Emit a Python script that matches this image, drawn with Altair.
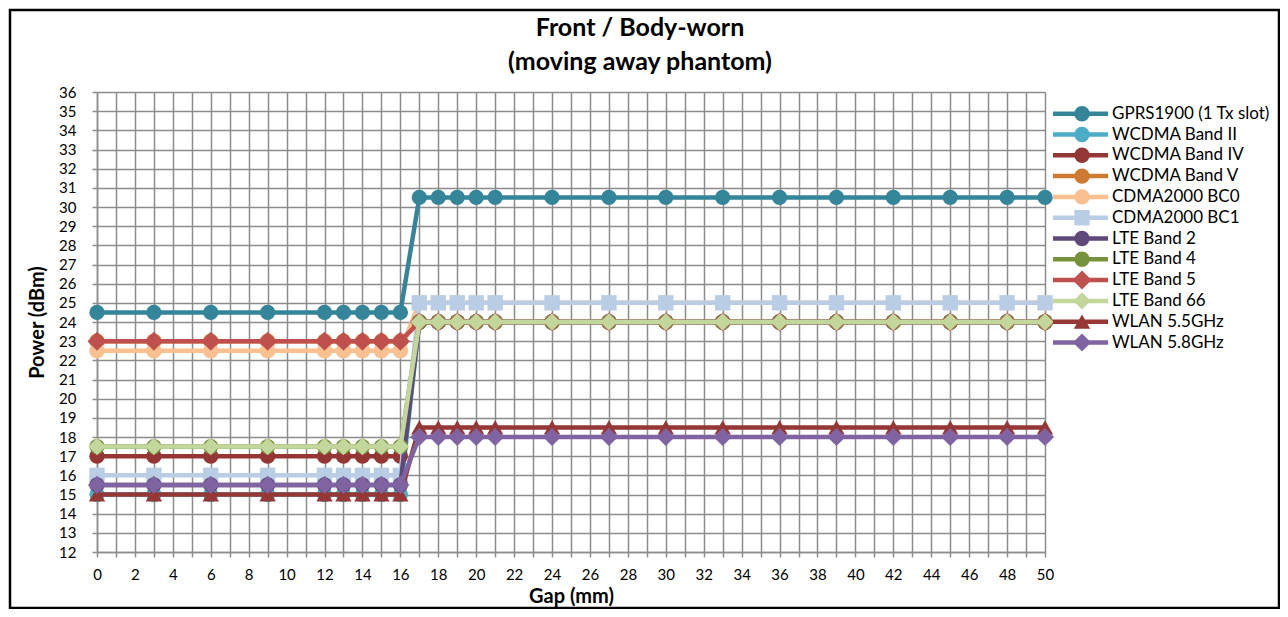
import altair as alt
import pandas as pd

gap = [0, 3, 6, 9, 12, 13, 14, 15, 16, 17, 18, 19, 20, 21, 24, 27, 30, 33, 36, 39, 42, 45, 48, 50]

series = ["GPRS1900 (1 Tx slot)", "WCDMA Band II", "WCDMA Band IV", "WCDMA Band V",
          "CDMA2000 BC0", "CDMA2000 BC1", "LTE Band 2", "LTE Band 4", "LTE Band 5",
          "LTE Band 66", "WLAN 5.5GHz", "WLAN 5.8GHz"]

gprs1900 = [24.5, 24.5, 24.5, 24.5, 24.5, 24.5, 24.5, 24.5, 24.5, 30.5, 30.5, 30.5, 30.5, 30.5, 30.5, 30.5, 30.5, 30.5, 30.5, 30.5, 30.5, 30.5, 30.5, 30.5]
wcdma_b2 = [15, 15, 15, 15, 15, 15, 15, 15, 15, 24, 24, 24, 24, 24, 24, 24, 24, 24, 24, 24, 24, 24, 24, 24]
wcdma_b4 = [17, 17, 17, 17, 17, 17, 17, 17, 17, 24, 24, 24, 24, 24, 24, 24, 24, 24, 24, 24, 24, 24, 24, 24]
wcdma_b5 = [23, 23, 23, 23, 23, 23, 23, 23, 23, 24, 24, 24, 24, 24, 24, 24, 24, 24, 24, 24, 24, 24, 24, 24]
cdma_bc0 = [22.5, 22.5, 22.5, 22.5, 22.5, 22.5, 22.5, 22.5, 22.5, 25, 25, 25, 25, 25, 25, 25, 25, 25, 25, 25, 25, 25, 25, 25]
cdma_bc1 = [16, 16, 16, 16, 16, 16, 16, 16, 16, 25, 25, 25, 25, 25, 25, 25, 25, 25, 25, 25, 25, 25, 25, 25]
lte_b2 = [15.5, 15.5, 15.5, 15.5, 15.5, 15.5, 15.5, 15.5, 15.5, 24, 24, 24, 24, 24, 24, 24, 24, 24, 24, 24, 24, 24, 24, 24]
lte_b4 = [17.5, 17.5, 17.5, 17.5, 17.5, 17.5, 17.5, 17.5, 17.5, 24, 24, 24, 24, 24, 24, 24, 24, 24, 24, 24, 24, 24, 24, 24]
lte_b5 = [23, 23, 23, 23, 23, 23, 23, 23, 23, 24, 24, 24, 24, 24, 24, 24, 24, 24, 24, 24, 24, 24, 24, 24]
lte_b66 = [17.5, 17.5, 17.5, 17.5, 17.5, 17.5, 17.5, 17.5, 17.5, 24, 24, 24, 24, 24, 24, 24, 24, 24, 24, 24, 24, 24, 24, 24]
wlan_55 = [15, 15, 15, 15, 15, 15, 15, 15, 15, 18.5, 18.5, 18.5, 18.5, 18.5, 18.5, 18.5, 18.5, 18.5, 18.5, 18.5, 18.5, 18.5, 18.5, 18.5]
wlan_58 = [15.5, 15.5, 15.5, 15.5, 15.5, 15.5, 15.5, 15.5, 15.5, 18, 18, 18, 18, 18, 18, 18, 18, 18, 18, 18, 18, 18, 18, 18]

values = [gprs1900, wcdma_b2, wcdma_b4, wcdma_b5, cdma_bc0, cdma_bc1,
          lte_b2, lte_b4, lte_b5, lte_b66, wlan_55, wlan_58]

title_lines = ["Front / Body-worn", "(moving away phantom)"]

colors = ["#35859A", "#4BACC6", "#943634", "#CD7B32", "#FAC08F", "#B9CDE5",
          "#5F497A", "#76923C", "#C0504D", "#C3D69B", "#953735", "#8064A2"]
shapes = ["circle", "circle", "circle", "circle", "circle", "square",
          "circle", "circle", "diamond", "diamond", "triangle-up", "diamond"]
sizes = [150, 150, 150, 150, 150, 150, 150, 150, 230, 190, 170, 210]

rows = []
for s, vals, sz in zip(series, values, sizes):
    for g, v in zip(gap, vals):
        rows.append({"series": s, "gap": g, "power": v, "msize": sz})
df = pd.DataFrame(rows)
legend_df = pd.DataFrame({"series": series, "msize": sizes})

FONT = "Lato"

color_scale = alt.Scale(domain=series, range=colors)
shape_scale = alt.Scale(domain=series, range=shapes)
size_scale = alt.Scale(type="identity")

x_enc = alt.X("gap:Q",
              scale=alt.Scale(domain=[0, 50], nice=False, zero=False),
              axis=alt.Axis(values=list(range(0, 51)),
                            labelExpr="datum.value % 2 == 0 ? datum.label : ''",
                            labelFlush=False,
                            title="Gap (mm)", labelPadding=10, titlePadding=4))
y_enc = alt.Y("power:Q",
              scale=alt.Scale(domain=[12, 36], nice=False, zero=False),
              axis=alt.Axis(values=list(range(12, 37)), title="Power (dBm)",
                            labelFlush=False,
                            labelPadding=16, titlePadding=11))

layers = []
for s in series:
    base = alt.Chart().transform_filter(alt.datum.series == s)
    line = base.mark_line(strokeWidth=4.5).encode(
        x=x_enc, y=y_enc,
        color=alt.Color("series:N", scale=color_scale, legend=None),
    )
    pts = base.mark_point(filled=True, opacity=1, strokeWidth=1).encode(
        x=x_enc, y=y_enc,
        color=alt.Color("series:N", scale=color_scale, legend=None),
        shape=alt.Shape("series:N", scale=shape_scale, legend=None),
        size=alt.Size("msize:Q", scale=size_scale, legend=None),
    )
    layers += [line, pts]

main = alt.layer(*layers, data=df)

leg_y = alt.Y("series:N", scale=alt.Scale(type="point", domain=series, range=[21.7, 250.5], padding=0), axis=None)
leg_base = alt.Chart(legend_df)
leg_line = leg_base.mark_rule(strokeWidth=4.5).encode(
    y=leg_y, x=alt.value(956), x2=alt.value(1011),
    color=alt.Color("series:N", scale=color_scale, legend=None))
leg_pt = leg_base.mark_point(filled=True, opacity=1).encode(
    y=leg_y, x=alt.value(985),
    color=alt.Color("series:N", scale=color_scale, legend=None),
    shape=alt.Shape("series:N", scale=shape_scale, legend=None),
    size=alt.Size("msize:Q", scale=size_scale, legend=None))
leg_text = leg_base.mark_text(align="left", baseline="middle", font=FONT, fontSize=17, color="#000000").encode(
    y=leg_y, x=alt.value(1015), text="series:N")
legend = alt.layer(leg_line, leg_pt, leg_text)

title_df = pd.DataFrame({"line": title_lines, "row": [0, 1]})
title_y = alt.Y("row:O", scale=alt.Scale(type="point", domain=[0, 1], range=[-64, -30], padding=0), axis=None)
title = alt.Chart(title_df).mark_text(align="center", baseline="middle", font=FONT, fontSize=25,
                                      fontWeight="bold", color="#000000").encode(
    x=alt.value(543), y=title_y, text="line:N")

border = alt.Chart(pd.DataFrame({"a": [0]})).mark_rect(filled=False, stroke="#000000", strokeWidth=2.5).encode(
    x=alt.value(-87), x2=alt.value(1182), y=alt.value(-82), y2=alt.value(516))

chart = alt.layer(main, legend, title, border).resolve_scale(y="independent").properties(
    width=948, height=460,
    autosize=alt.AutoSizeParams(type="none"),
    padding={"left": 89, "top": 84, "right": 235, "bottom": 57},
    background="#FFFFFF",
).configure_view(stroke=None).configure_axis(
    labelFont=FONT, labelFontSize=15, labelColor="#000000",
    titleFont=FONT, titleFontSize=20, titleFontWeight="bold", titleColor="#000000",
    gridColor="#8C8C8C", gridWidth=1.5, gridOpacity=1,
    domainColor="#8C8C8C", domainWidth=1.5,
    tickColor="#8C8C8C", tickWidth=1.5, tickSize=5,
)

chart.save("out.html", embed_options={"renderer": "svg", "actions": False})
